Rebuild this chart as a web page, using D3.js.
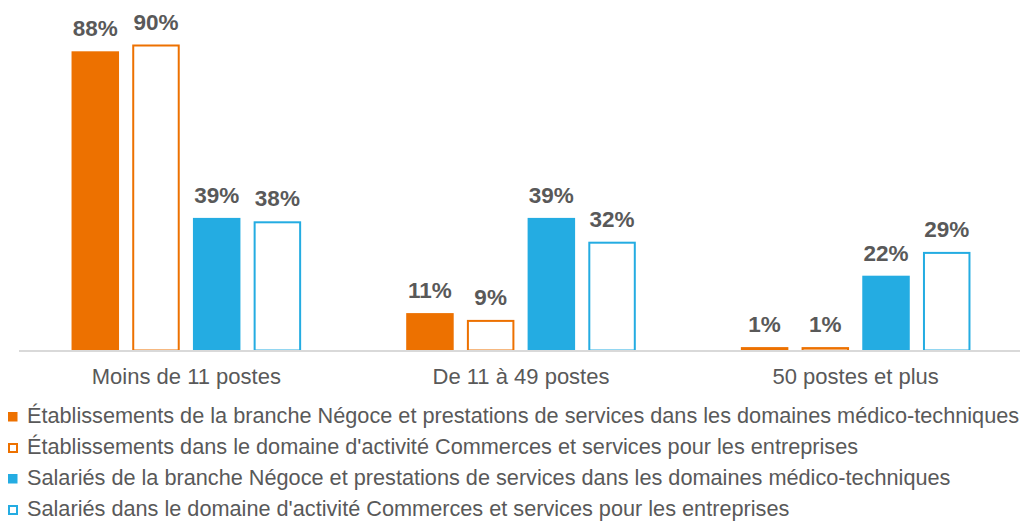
<!DOCTYPE html>
<html>
<head>
<meta charset="utf-8">
<script src="https://cdn.jsdelivr.net/npm/d3@7"></script>
<style>
  body { margin: 0; background: #fff; }
  svg { display: block; font-family: "Liberation Sans", Arial, sans-serif; }
</style>
</head>
<body>
<script>
// categories and series
var categories = ["Moins de 11 postes", "De 11 à 49 postes", "50 postes et plus"];
var seriesNames = [
  "Établissements de la branche Négoce et prestations de services dans les domaines médico-techniques",
  "Établissements dans le domaine d'activité Commerces et services pour les entreprises",
  "Salariés de la branche Négoce et prestations de services dans les domaines médico-techniques",
  "Salariés dans le domaine d'activité Commerces et services pour les entreprises"
];
var etabBranche = [88, 11, 1];
var etabDomaine = [90, 9, 1];
var salBranche = [39, 39, 22];
var salDomaine = [38, 32, 29];

var seriesValues = [etabBranche, etabDomaine, salBranche, salDomaine];
var seriesColors = ["#ED7100", "#ED7100", "#24ACE2", "#24ACE2"];
var seriesFilled = [true, false, true, false];

var w = 1020, h = 522;
var baseY = 350.5;

var svg = d3.select("body").append("svg")
  .attr("width", w)
  .attr("height", h);

// scales
var x0 = d3.scaleBand()
  .domain(categories)
  .range([19, 1023]);

var x1 = d3.scaleBand()
  .domain(d3.range(seriesNames.length))
  .range([-114.8, 114.8])
  .paddingInner(0.2175);

var y = d3.scaleLinear()
  .domain([0, 100])
  .range([baseY, baseY - 340]);

// flatten data
var rows = [];
categories.forEach(function (c, ci) {
  seriesValues.forEach(function (vals, si) {
    rows.push({ cat: c, s: si, v: vals[ci] });
  });
});

var groups = svg.selectAll("g.bar")
  .data(rows)
  .enter()
  .append("g")
  .attr("class", "bar")
  .attr("transform", function (d) {
    return "translate(" + (x0(d.cat) + x0.bandwidth() / 2 + x1(d.s)) + ",0)";
  });

groups.append("rect")
  .attr("x", function (d) { return seriesFilled[d.s] ? 0 : 1; })
  .attr("y", function (d) { return seriesFilled[d.s] ? y(d.v) : y(d.v) + 1; })
  .attr("width", function (d) { return seriesFilled[d.s] ? x1.bandwidth() : x1.bandwidth() - 2; })
  .attr("height", function (d) {
    return seriesFilled[d.s] ? baseY - y(d.v) : Math.max(0, baseY - y(d.v) - 1);
  })
  .attr("fill", function (d) { return seriesFilled[d.s] ? seriesColors[d.s] : "#fff"; })
  .attr("stroke", function (d) { return seriesFilled[d.s] ? "none" : seriesColors[d.s]; })
  .attr("stroke-width", 2);

// value labels
groups.append("text")
  .text(function (d) { return d.v + "%"; })
  .attr("x", x1.bandwidth() / 2)
  .attr("y", function (d) { return y(d.v) - 15; })
  .attr("text-anchor", "middle")
  .attr("font-size", "22.5px")
  .attr("font-weight", "bold")
  .attr("fill", "#595959");

// axis line
svg.append("line")
  .attr("x1", 19)
  .attr("x2", 1020)
  .attr("y1", baseY + 0.5)
  .attr("y2", baseY + 0.5)
  .attr("stroke", "#D9D9D9")
  .attr("stroke-width", 2);

// category labels
svg.selectAll("text.cat")
  .data(categories)
  .enter()
  .append("text")
  .attr("class", "cat")
  .text(function (d) { return d; })
  .attr("x", function (d) { return x0(d) + x0.bandwidth() / 2; })
  .attr("y", 384)
  .attr("text-anchor", "middle")
  .attr("font-size", "22px")
  .attr("fill", "#595959");

// legend
var legend = svg.selectAll("g.legend")
  .data(seriesNames)
  .enter()
  .append("g")
  .attr("class", "legend")
  .attr("transform", function (d, i) { return "translate(0," + (415 + i * 31) + ")"; });

legend.append("rect")
  .attr("x", function (d, i) { return seriesFilled[i] ? 8 : 9; })
  .attr("y", function (d, i) { return seriesFilled[i] ? -3 : -2; })
  .attr("width", function (d, i) { return seriesFilled[i] ? 9.5 : 8; })
  .attr("height", function (d, i) { return seriesFilled[i] ? 9.5 : 8; })
  .attr("fill", function (d, i) { return seriesFilled[i] ? seriesColors[i] : "#fff"; })
  .attr("stroke", function (d, i) { return seriesFilled[i] ? "none" : seriesColors[i]; })
  .attr("stroke-width", 2);

legend.append("text")
  .text(function (d) { return d; })
  .attr("x", 27)
  .attr("y", 8)
  .attr("font-size", "21.7px")
  .attr("fill", "#595959");
</script>
</body>
</html>
